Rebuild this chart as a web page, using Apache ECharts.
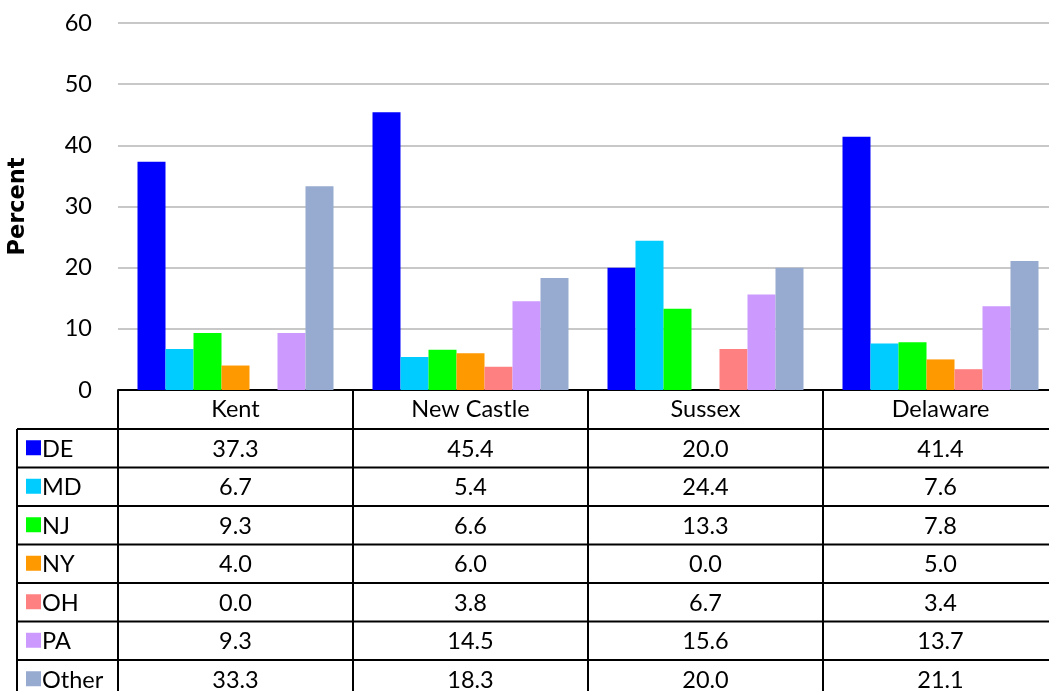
<!DOCTYPE html>
<html><head><meta charset="utf-8">
<script src="https://cdn.jsdelivr.net/npm/echarts@6/dist/echarts.min.js"></script>
<style>html,body{margin:0;padding:0;background:#fff}#c{width:1049px;height:691px}</style>
</head><body><div id="c"></div>
<script>
const categories = ['Kent', 'New Castle', 'Sussex', 'Delaware'];
const seriesNames = ['DE', 'MD', 'NJ', 'NY', 'OH', 'PA', 'Other'];
const DE = [37.3, 45.4, 20.0, 41.4];
const MD = [6.7, 5.4, 24.4, 7.6];
const NJ = [9.3, 6.6, 13.3, 7.8];
const NY = [4.0, 6.0, 0.0, 5.0];
const OH = [0.0, 3.8, 6.7, 3.4];
const PA = [9.3, 14.5, 15.6, 13.7];
const Other = [33.3, 18.3, 20.0, 21.1];
const yTicks = [0, 10, 20, 30, 40, 50, 60];

const values = [DE, MD, NJ, NY, OH, PA, Other];
const colors = ['#0000FF', '#00CCFF', '#00FF00', '#FF9900', '#FF8080', '#CC99FF', '#97AAD0'];
const FONT = 'Lato';
const FS = 23.5;

const gridLeft = 118, gridTop = 23, gridW = 940, gridBottomY = 390;
const headerH = 39, rowH = 38.5, legendLeft = 17;
const colW = gridW / categories.length;

const chart = echarts.init(document.getElementById('c'), null, {renderer: 'canvas'});

const graphics = [];
const tableBottom = gridBottomY + headerH + rowH * seriesNames.length;
const lineStyle = {stroke: '#000', lineWidth: 2};
for (let r = 0; r <= seriesNames.length; r++) {
  const y = gridBottomY + headerH + r * rowH;
  graphics.push({type: 'line', shape: {x1: legendLeft, y1: y, x2: gridLeft + gridW, y2: y}, style: lineStyle, z: 10});
}
for (let c = 0; c <= categories.length; c++) {
  const x = gridLeft + c * colW;
  graphics.push({type: 'line', shape: {x1: x, y1: gridBottomY, x2: x, y2: tableBottom}, style: lineStyle, z: 10});
}
graphics.push({type: 'line', shape: {x1: legendLeft, y1: gridBottomY + headerH, x2: legendLeft, y2: tableBottom}, style: lineStyle, z: 10});
seriesNames.forEach((name, r) => {
  const cy = gridBottomY + headerH + r * rowH + rowH / 2;
  graphics.push({type: 'rect', shape: {x: 26, y: cy - 8, width: 15, height: 15}, style: {fill: colors[r]}, z: 10});
  graphics.push({type: 'text', x: 42, y: cy + 1, style: {text: name, font: FS + 'px ' + FONT, fill: '#000', textVerticalAlign: 'middle', textAlign: 'left'}, z: 10});
  values[r].forEach((v, c) => {
    graphics.push({type: 'text', x: gridLeft + c * colW + colW / 2, y: cy + 1,
      style: {text: v.toFixed(1), font: FS + 'px ' + FONT, fill: '#000', textAlign: 'center', textVerticalAlign: 'middle'}, z: 10});
  });
});

chart.setOption({
  animation: false,
  backgroundColor: '#fff',
  grid: {left: gridLeft, top: gridTop, width: gridW, height: gridBottomY - gridTop, containLabel: false, outerBoundsMode: 'none'},
  xAxis: {
    type: 'category', data: categories,
    axisLine: {show: true, lineStyle: {color: '#000', width: 2}},
    axisTick: {show: false},
    axisLabel: {color: '#000', fontFamily: FONT, fontSize: FS, margin: 7, lineHeight: 24},
    splitLine: {show: false}
  },
  yAxis: {
    type: 'value', min: yTicks[0], max: yTicks[yTicks.length - 1], interval: 10,
    name: 'Percent', nameLocation: 'middle', nameGap: 88, nameRotate: 90,
    nameTextStyle: {color: '#000', fontFamily: 'DejaVu Sans', fontSize: 22.5, fontWeight: 'bold'},
    axisLine: {show: false}, axisTick: {show: false},
    axisLabel: {color: '#000', fontFamily: FONT, fontSize: FS, margin: 26},
    splitLine: {lineStyle: {color: '#c8c8c8', width: 2}}
  },
  series: seriesNames.map((n, i) => ({
    name: n, type: 'bar', data: values[i], barGap: '0%', barCategoryGap: '16.6%',
    itemStyle: {color: colors[i]}
  })),
  graphic: graphics
});
</script></body></html>
